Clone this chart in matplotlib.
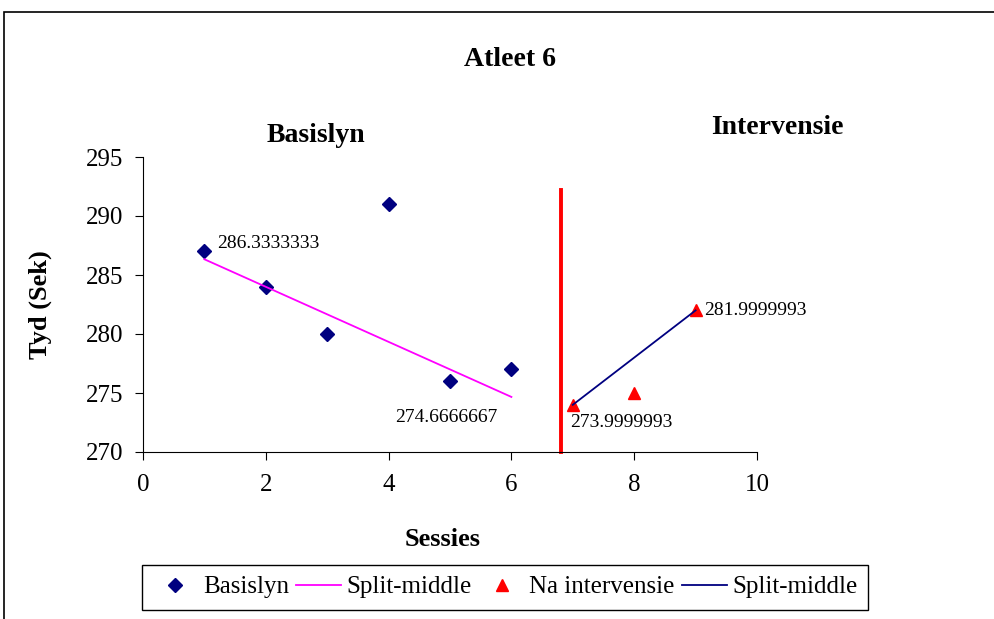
import numpy as np
import matplotlib
matplotlib.use("Agg")
import matplotlib.pyplot as plt
from matplotlib.patches import Rectangle

plt.rcParams['font.family'] = ['Liberation Serif', 'DejaVu Serif']

# data
base_x = [1, 2, 3, 4, 5, 6]
base_y = [287, 284, 280, 291, 276, 277]
base_split_x = [1, 6]
base_split_y = [286.3333333, 274.6666667]
int_x = [7, 8, 9]
int_y = [274, 275, 282]
int_split_x = [7, 9]
int_split_y = [273.9999993, 281.9999993]
phase_x = 6.8
phase_top = 292.2

fig = plt.figure(figsize=(9.94, 6.19), dpi=100)
ax = fig.add_axes([143/994, 1-452/619, 614/994, 295/619])

# outer chart border
fig.patches.append(Rectangle((4/994, -0.2), 1.2, 1.2 - 12/619, transform=fig.transFigure,
                             fill=False, edgecolor='black', lw=1.2, clip_on=False))

ax.plot(base_x, base_y, 'D', color='#000080', ms=7.5, ls='none', label='Basislyn', clip_on=False)
ax.plot(base_split_x, base_split_y, color='#ff00ff', lw=1.3, label='Split-middle')
ax.plot(int_x, int_y, '^', color='#ff0000', ms=8.5, ls='none', label='Na intervensie', clip_on=False)
ax.plot(int_split_x, int_split_y, color='#000080', lw=1.3, label='Split-middle')
ax.plot([phase_x, phase_x], [270, phase_top], color='#ff0000', lw=2.8, clip_on=False)

# data labels
ax.annotate('286.3333333', (base_split_x[0], base_split_y[0]), xytext=(9, 11), textcoords='offset points',
            fontsize=14, ha='left', va='center')
ax.annotate('274.6666667', (base_split_x[1], base_split_y[1]), xytext=(-10, -15), textcoords='offset points',
            fontsize=14, ha='right', va='center')
ax.annotate('273.9999993', (int_split_x[0], int_split_y[0]), xytext=(-2, -13), textcoords='offset points',
            fontsize=14, ha='left', va='center')
ax.annotate('281.9999993', (int_split_x[1], int_split_y[1]), xytext=(6, 0), textcoords='offset points',
            fontsize=14, ha='left', va='center')

ax.set_xlim(0, 10)
ax.set_ylim(270, 295)
ax.set_xticks(np.arange(0, 11, 2))
ax.set_yticks(np.arange(270, 296, 5))
ax.spines['top'].set_visible(False)
ax.spines['right'].set_visible(False)
ax.tick_params(direction='out', length=6, labelsize=18, pad=8)
ax.tick_params(axis='x', pad=10)

fig.text(40/994, 1-305/619, 'Tyd (Sek)', rotation=90, ha='center', va='center', fontsize=19, fontweight='bold')
fig.text(443/994, 1-540/619, 'Sessies', ha='center', va='center', fontsize=19, fontweight='bold')
fig.text(510/994, 1-60/619, 'Atleet 6', ha='center', va='center', fontsize=20, fontweight='bold')
fig.text(316/994, 1-135/619, 'Basislyn', ha='center', va='center', fontsize=20, fontweight='bold')
fig.text(777/994, 1-128/619, 'Intervensie', ha='center', va='center', fontsize=20, fontweight='bold')

leg = fig.legend(loc='center', bbox_to_anchor=(505/994, 1-587/619), ncol=4, fontsize=18,
                 frameon=True, fancybox=False, edgecolor='black', framealpha=1,
                 handlelength=1.8, handletextpad=0.2, columnspacing=0.3, borderpad=0.45,
                 borderaxespad=0)
leg.get_frame().set_linewidth(1.0)

fig.savefig('out.png', dpi=100)
